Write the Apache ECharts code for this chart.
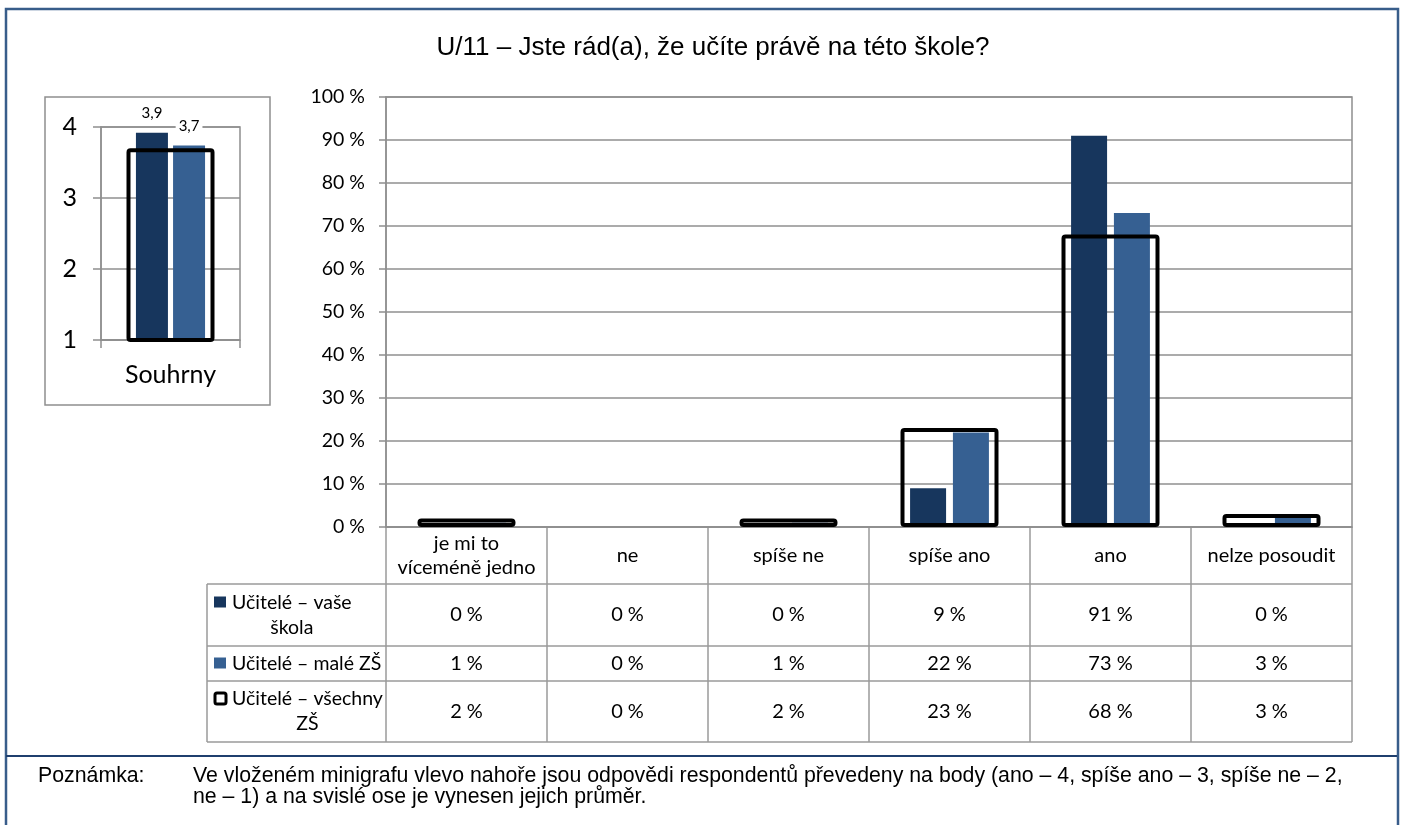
<!DOCTYPE html>
<html>
<head>
<meta charset="utf-8">
<title>U/11 – Jste rád(a), že učíte právě na této škole?</title>
<script src="https://cdn.jsdelivr.net/npm/echarts@6/dist/echarts.min.js"></script>
<style>
    html, body { margin: 0; padding: 0; background: #fff; }
    #chart { width: 1402px; height: 825px; }
</style>
</head>
<body>
<div id="chart"></div>
<script>
    // kategorie odpovědí (hlavní graf)
    var categories = ['je mi to víceméně jedno', 'ne', 'spíše ne', 'spíše ano', 'ano', 'nelze posoudit'];
    var headerLabels = ['je mi to\nvíceméně jedno', 'ne', 'spíše ne', 'spíše ano', 'ano', 'nelze posoudit'];
    var seriesNames = ['Učitelé – vaše škola', 'Učitelé – malé ZŠ', 'Učitelé – všechny ZŠ'];
    var legendLabels = ['Učitelé – vaše\nškola', 'Učitelé – malé ZŠ', 'Učitelé – všechny\nZŠ'];
    var vaseSkola = [0, 0, 0, 9, 91, 0];
    var maleZS = [1, 0, 1, 22, 73, 3];
    var vsechnyZS = [2, 0, 2, 23, 68, 3];

    // minigraf - průměr bodů
    var miniCategory = ['Souhrny'];
    var miniVase = [3.92];
    var miniMale = [3.74];
    var miniVsechny = [3.70];

    var titleText = 'U/11 – Jste rád(a), že učíte právě na této škole?';
    var noteLabel = 'Poznámka:';
    var noteText = 'Ve vloženém minigrafu vlevo nahoře jsou odpovědi respondentů převedeny na body (ano – 4, spíše ano – 3, spíše ne – 2,\nne – 1) a na svislé ose je vynesen jejich průměr.';

    var DARK = '#17365d', LIGHT = '#366092', GRID = '#8f8f8f', FRAME = '#385d8a';
    var FONT = 'Lato, "Noto Sans", sans-serif';
    var ARIAL = '"Liberation Sans", Arial, sans-serif';

    // rozložení hlavního grafu a tabulky
    var plotL = 386, plotR = 1352, plotT = 97, plotB = 527;
    var tableL = 207;
    var rowY = [527, 584, 646, 681, 742];
    var colW = (plotR - plotL) / categories.length;

    var measureCtx = document.createElement('canvas').getContext('2d');
    function textWidth(s, font) {
        measureCtx.font = font;
        return Math.max.apply(null, s.split('\n').map(function(l){ return measureCtx.measureText(l).width; }));
    }

    var graphic = [];
    // rámeček
    graphic.push({type: 'rect', shape: {x: 6, y: 9, width: 1392, height: 840}, style: {fill: null, stroke: FRAME, lineWidth: 2.5}, silent: true});
    // rámeček minigrafu
    graphic.push({type: 'rect', shape: {x: 45, y: 97, width: 225, height: 308}, style: {fill: null, stroke: GRID, lineWidth: 1.5}, silent: true});
    // titulek
    graphic.push({type: 'text', x: 713, y: 48, style: {text: titleText, font: '26px ' + ARIAL, fill: '#000', align: 'center', verticalAlign: 'middle'}});
    // oddělovač poznámky
    graphic.push({type: 'line', shape: {x1: 6, y1: 756, x2: 1397, y2: 756}, style: {stroke: '#1f3f6e', lineWidth: 2}});
    graphic.push({type: 'text', x: 38, y: 766, style: {text: noteLabel, font: '21.3px ' + ARIAL, fill: '#000', lineHeight: 21}});
    graphic.push({type: 'text', x: 193, y: 766, style: {text: noteText, font: '21.3px ' + ARIAL, fill: '#000', lineHeight: 21}});

    // tabulka - čáry
    var lineStyle = {stroke: '#9a9a9a', lineWidth: 1.5};
    for (var i = 0; i <= categories.length; i++) {
        var x = plotL + i * colW;
        graphic.push({type: 'line', shape: {x1: x, y1: rowY[0], x2: x, y2: rowY[4]}, style: lineStyle});
    }
    graphic.push({type: 'line', shape: {x1: tableL, y1: rowY[1], x2: tableL, y2: rowY[4]}, style: lineStyle});
    for (var r = 1; r < rowY.length; r++) {
        graphic.push({type: 'line', shape: {x1: tableL, y1: rowY[r], x2: plotR, y2: rowY[r]}, style: lineStyle});
    }
    // hlavička
    headerLabels.forEach(function(lbl, i) {
        graphic.push({type: 'text', x: plotL + (i + 0.5) * colW, y: (rowY[0] + rowY[1]) / 2,
            style: {text: lbl, font: '20px ' + FONT, fill: '#000', align: 'center', verticalAlign: 'middle', lineHeight: 24}});
    });
    // hodnoty a legenda
    var tableData = [vaseSkola, maleZS, vsechnyZS];
    tableData.forEach(function(vals, r) {
        var cy = (rowY[r + 1] + rowY[r + 2]) / 2;
        vals.forEach(function(v, i) {
            graphic.push({type: 'text', x: plotL + (i + 0.5) * colW, y: cy,
                style: {text: v + ' %', font: '20px ' + FONT, fill: '#000', align: 'center', verticalAlign: 'middle'}});
        });
        var lbl = legendLabels[r];
        var nLines = lbl.split('\n').length;
        var lf = '19.5px ' + FONT;
        var w = textWidth(lbl, lf);
        graphic.push({type: 'text', x: 232 + w / 2, y: cy,
            style: {text: lbl, font: lf, fill: '#000', align: 'center', verticalAlign: 'middle', lineHeight: 25}});
        var my = cy - (nLines - 1) * 25 / 2;
        if (r < 2) {
            graphic.push({type: 'rect', shape: {x: 214, y: my - 6, width: 12, height: 11}, style: {fill: r === 0 ? DARK : LIGHT}});
        } else {
            graphic.push({type: 'rect', shape: {x: 215, y: my - 6, width: 11, height: 11, r: 2}, style: {fill: '#fff', stroke: '#000', lineWidth: 3}});
        }
    });

    var axisGrey = {lineStyle: {color: GRID, width: 1.5}};
    var outlineStyle = {color: 'rgba(0,0,0,0)', borderColor: '#000', borderWidth: 4, borderRadius: 2};

    var myChart = echarts.init(document.getElementById('chart'), null, {renderer: 'canvas'});
    var option = {
        animation: false,
        backgroundColor: '#fff',
        textStyle: {fontFamily: FONT},
        grid: [
            {left: plotL, top: plotT, width: plotR - plotL, height: plotB - plotT, show: true, borderColor: GRID, borderWidth: 1.5},
            {left: 101, top: 127, width: 139, height: 213, show: true, borderColor: GRID, borderWidth: 1.5}
        ],
        xAxis: [
            {type: 'category', gridIndex: 0, data: categories, axisLine: axisGrey, axisTick: {show: false}, axisLabel: {show: false}},
            {type: 'category', gridIndex: 0, data: categories, show: false},
            {type: 'category', gridIndex: 1, data: miniCategory, axisLine: axisGrey,
                axisTick: {show: true, length: 8, lineStyle: {color: GRID, width: 1.5}},
                axisLabel: {fontSize: 25, color: '#000', margin: 22, fontFamily: FONT}},
            {type: 'category', gridIndex: 1, data: miniCategory, show: false}
        ],
        yAxis: [
            {type: 'value', gridIndex: 0, min: 0, max: 100, interval: 10,
                axisLine: {show: true, lineStyle: {color: GRID, width: 1.5}},
                axisTick: {show: true, length: 7, lineStyle: {color: GRID, width: 1.5}},
                splitLine: {lineStyle: {color: GRID, width: 1.5}},
                axisLabel: {formatter: '{value} %', fontSize: 19.5, color: '#000', margin: 21, fontFamily: FONT}},
            {type: 'value', gridIndex: 1, min: 1, max: 4, interval: 1,
                axisLine: {show: true, lineStyle: {color: GRID, width: 1.5}},
                axisTick: {show: true, length: 8, lineStyle: {color: GRID, width: 1.5}},
                splitLine: {lineStyle: {color: GRID, width: 1.5}},
                axisLabel: {fontSize: 25, color: '#000', margin: 24, fontFamily: FONT}}
        ],
        series: [
            {name: seriesNames[0], type: 'bar', xAxisIndex: 0, yAxisIndex: 0, data: vaseSkola,
                barWidth: 36, barGap: '19%', itemStyle: {color: DARK}},
            {name: seriesNames[1], type: 'bar', xAxisIndex: 0, yAxisIndex: 0, data: maleZS,
                barWidth: 36, barGap: '19%', itemStyle: {color: LIGHT}},
            {name: seriesNames[2], type: 'bar', xAxisIndex: 1, yAxisIndex: 0, z: 3,
                data: vsechnyZS.map(function(v){ return v === 0 ? null : v; }),
                barWidth: 98, itemStyle: outlineStyle},
            // minigraf
            {name: seriesNames[0], type: 'bar', xAxisIndex: 2, yAxisIndex: 1, data: miniVase,
                barWidth: 32, barGap: '16%', itemStyle: {color: DARK},
                label: {show: true, position: 'top', distance: 12, fontSize: 15, color: '#000', backgroundColor: '#fff', padding: [0, 3],
                    formatter: function(p){ return p.value.toFixed(1).replace('.', ','); }}},
            {name: seriesNames[1], type: 'bar', xAxisIndex: 2, yAxisIndex: 1, data: miniMale,
                barWidth: 32, barGap: '16%', itemStyle: {color: LIGHT},
                label: {show: true, position: 'top', distance: 12, fontSize: 15, color: '#000', backgroundColor: '#fff', padding: [0, 3],
                    formatter: function(p){ return p.value.toFixed(1).replace('.', ','); }}},
            {name: seriesNames[2], type: 'bar', xAxisIndex: 3, yAxisIndex: 1, data: miniVsechny, z: 3,
                barWidth: 88, itemStyle: outlineStyle}
        ],
        graphic: graphic
    };
    myChart.setOption(option);
</script>
</body>
</html>
